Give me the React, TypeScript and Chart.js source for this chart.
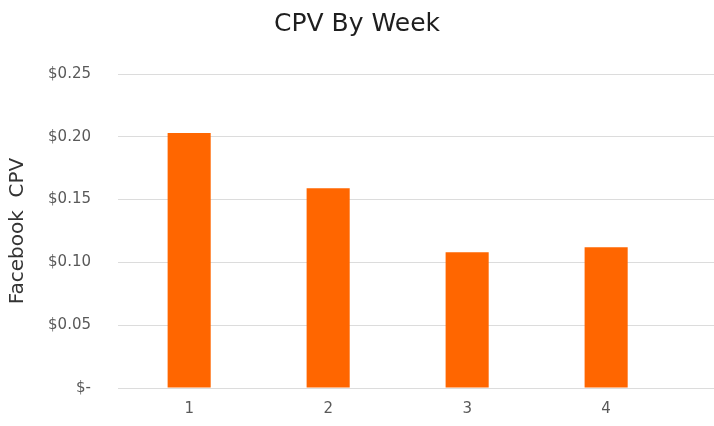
import React, { useEffect, useRef } from "react";
import { Chart, registerables } from "chart.js";

Chart.register(...registerables);

const weeks = ["1", "2", "3", "4"];
const cpvValues = [0.203, 0.159, 0.108, 0.112];
const yTickLabels = ["$-", "$0.05", "$0.10", "$0.15", "$0.20", "$0.25"];
const chartTitle = "CPV By Week";
const yAxisTitle = "Facebook  CPV";

const FONT = "'DejaVu Sans', 'Open Sans', sans-serif";

export default function App() {
  const ref = useRef<HTMLCanvasElement | null>(null);

  useEffect(() => {
    if (!ref.current) return;
    const points = cpvValues.map((v, i) => ({ x: i, y: v }));
    const chart = new Chart(ref.current, {
      type: "bar",
      data: {
        datasets: [
          {
            label: "CPV",
            data: points,
            backgroundColor: "#ff6600",
            borderWidth: 0,
            barPercentage: 0.31,
            categoryPercentage: 1,
          },
        ],
      },
      options: {
        animation: false,
        responsive: false,
        maintainAspectRatio: false,
        layout: { padding: 0 },
        plugins: {
          legend: { display: false },
          tooltip: { enabled: false },
          title: {
            display: true,
            text: chartTitle,
            color: "#1e1e1e",
            font: { family: FONT, size: 25, weight: "normal" },
            padding: { top: 9, bottom: 35 },
          },
        },
        scales: {
          x: {
            type: "linear",
            min: -0.512,
            max: 3.776,
            offset: false,
            grid: { display: false, drawTicks: false },
            border: { display: false },
            afterBuildTicks: (s: any) => {
              s.ticks = weeks.map((_w, i) => ({ value: i }));
            },
            ticks: {
              color: "#595959",
              font: { family: FONT, size: 15 },
              padding: 12,
              callback: (v: any) => weeks[Math.round(Number(v))] ?? "",
            },
            afterFit: (s: any) => {
              s.height = 38;
            },
          },
          y: {
            min: 0,
            max: 0.25,
            ticks: {
              stepSize: 0.05,
              color: "#595959",
              font: { family: FONT, size: 15 },
              padding: 27,
              callback: (_v: any, i: number) => yTickLabels[i],
            },
            grid: { color: "#dcdcdc", lineWidth: 1, drawTicks: false },
            border: { display: false },
            title: {
              display: true,
              text: yAxisTitle,
              color: "#333333",
              font: { family: FONT, size: 20 },
              padding: { top: 6, bottom: 0 },
            },
            afterFit: (s: any) => {
              s.width = 118;
            },
          },
        },
      },
    });
    return () => chart.destroy();
  }, []);

  return (
    <div style={{ position: "fixed", left: 0, top: 0, width: 714, height: 426, background: "#fff" }}>
      <canvas ref={ref} width={714} height={426} style={{ width: 714, height: 426 }} />
    </div>
  );
}
